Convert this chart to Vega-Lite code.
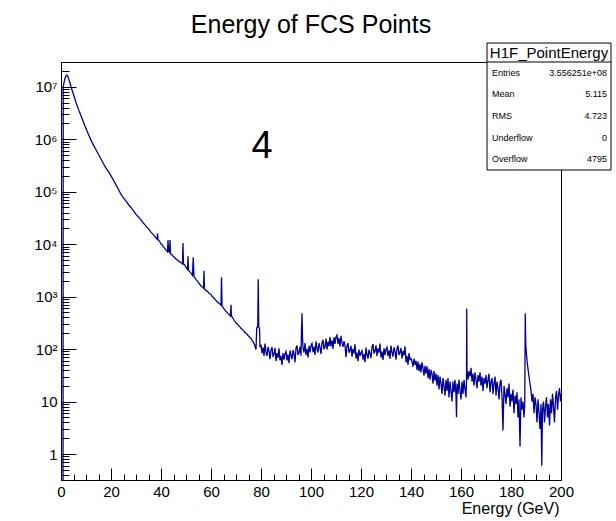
{
"$schema": "https://vega.github.io/schema/vega-lite/v6.json",
"width": 500, "height": 418,
"autosize": "none",
"padding": {"left": 61, "top": 62, "right": 55, "bottom": 41},
"background": "white",
"config": {
  "view": {"stroke": null},
  "font": "Liberation Sans",
  "axis": {"grid": false, "labelFont": "Liberation Sans", "labelFontSize": 15, "labelColor": "black", "tickColor": "black", "domainColor": "black", "tickWidth": 1, "domainWidth": 1, "labelFlush": false, "labelOverlap": false, "titleFont": "Liberation Sans", "titleFontWeight": "normal", "titleColor": "black"}
},
"datasets": {
"one": [{}],
"hist": [
{"E":0.8,"N":0.01},{"E":0.9,"N":1.0e7},{"E":1.2,"N":1.2e7},{"E":1.6,"N":1.45e7},{"E":2.0,"N":1.62e7},{"E":2.4,"N":1.66e7},{"E":2.8,"N":1.55e7},{"E":3.2,"N":1.35e7},{"E":3.6,"N":1.18e7},{"E":4,"N":1.0e7},
{"E":5,"N":7.1e6},{"E":6,"N":5.0e6},{"E":7,"N":3.7e6},{"E":8,"N":2.8e6},{"E":9,"N":2.1e6},{"E":10,"N":1.6e6},{"E":11,"N":1.23e6},{"E":12,"N":9.5e5},{"E":13,"N":7.7e5},{"E":14,"N":6.3e5},
{"E":15,"N":5.1e5},{"E":16,"N":4.2e5},{"E":17,"N":3.4e5},{"E":18,"N":2.8e5},{"E":19,"N":2.4e5},{"E":20,"N":2.0e5},{"E":21,"N":1.65e5},{"E":22,"N":1.35e5},{"E":23,"N":1.1e5},{"E":24,"N":8.9e4},
{"E":25,"N":7.6e4},{"E":26,"N":6.6e4},{"E":27,"N":5.7e4},{"E":28,"N":5.0e4},{"E":29,"N":4.3e4},{"E":30,"N":3.7e4},{"E":31,"N":3.3e4},{"E":32,"N":2.9e4},{"E":33,"N":2.5e4},{"E":34,"N":2.2e4},
{"E":35,"N":1.95e4},{"E":36,"N":1.7e4},{"E":37,"N":1.5e4},{"E":38,"N":1.3e4},{"E":38.4,"N":1.25e4},{"E":38.6,"N":1.6e4},{"E":38.8,"N":1.22e4},{"E":39.5,"N":1.12e4},{"E":40,"N":1.0e4},{"E":40.5,"N":9.6e3},
{"E":41,"N":8.9e3},{"E":41.5,"N":8.3e3},{"E":42,"N":7.7e3},{"E":42.6,"N":7.2e3},{"E":42.8,"N":1.2e4},{"E":43.0,"N":7.3e3},{"E":43.4,"N":7.0e3},{"E":43.6,"N":1.2e4},{"E":43.8,"N":6.8e3},{"E":44,"N":6.4e3},
{"E":44.5,"N":6.2e3},{"E":45,"N":5.8e3},{"E":45.5,"N":5.5e3},{"E":46,"N":5.2e3},{"E":46.5,"N":5.0e3},{"E":47,"N":4.8e3},{"E":47.5,"N":4.6e3},{"E":48,"N":4.4e3},{"E":48.6,"N":4.2e3},{"E":48.8,"N":1.05e4},
{"E":49.0,"N":4.2e3},{"E":49.5,"N":4.0e3},{"E":50,"N":3.6e3},{"E":50.6,"N":3.3e3},{"E":50.8,"N":5.9e3},{"E":51.0,"N":3.2e3},{"E":51.5,"N":3.0e3},{"E":52,"N":2.8e3},{"E":52.6,"N":2.55e3},{"E":52.9,"N":5.6e3},
{"E":53.2,"N":2.4e3},{"E":53.6,"N":2.3e3},{"E":54,"N":2.1e3},{"E":54.5,"N":2.0e3},{"E":55,"N":1.85e3},{"E":55.5,"N":1.72e3},{"E":56,"N":1.6e3},{"E":56.5,"N":1.52e3},{"E":57.0,"N":1.45e3},{"E":57.2,"N":3.1e3},
{"E":57.4,"N":1.4e3},{"E":58,"N":1.3e3},{"E":58.5,"N":1.26e3},{"E":59,"N":1.2e3},{"E":59.5,"N":1.13e3},{"E":60,"N":1.1e3},{"E":60.5,"N":1.0e3},{"E":61,"N":960},{"E":61.5,"N":900},{"E":62,"N":850},
{"E":62.5,"N":790},{"E":63,"N":760},{"E":63.5,"N":720},{"E":64,"N":690},{"E":64.2,"N":2350},{"E":64.4,"N":680},{"E":65,"N":600},{"E":65.5,"N":560},{"E":66,"N":520},{"E":66.5,"N":500},
{"E":67,"N":470},{"E":67.5,"N":440},{"E":67.8,"N":425},{"E":68.0,"N":700},{"E":68.2,"N":430},{"E":68.6,"N":400},{"E":69,"N":370},{"E":69.5,"N":340},{"E":70,"N":316},{"E":70.5,"N":300},
{"E":71,"N":280},{"E":71.5,"N":268},{"E":72,"N":250},{"E":72.5,"N":236},{"E":73,"N":225},{"E":73.5,"N":210},{"E":74,"N":200},{"E":74.5,"N":190},{"E":75,"N":178},{"E":75.5,"N":168},
{"E":76,"N":158},{"E":76.5,"N":145},{"E":77,"N":132},{"E":77.5,"N":118},{"E":78.0,"N":98},{"E":78.3,"N":255},{"E":78.7,"N":270},{"E":78.9,"N":2140},{"E":79.1,"N":262},{"E":79.4,"N":250},
{"E":79.6,"N":108},
{"E":80.0,"N":122},{"E":80.4,"N":83},{"E":80.8,"N":108},{"E":81.2,"N":74},{"E":81.6,"N":127},{"E":82.0,"N":87},{"E":82.4,"N":74},{"E":82.8,"N":110},{"E":83.2,"N":92},{"E":83.6,"N":64},
{"E":84.0,"N":97},{"E":84.4,"N":109},{"E":84.8,"N":71},{"E":85.2,"N":80},{"E":85.6,"N":105},{"E":86.0,"N":59},{"E":86.4,"N":84},{"E":86.8,"N":68},{"E":87.2,"N":103},{"E":87.6,"N":61},
{"E":88.0,"N":74},{"E":88.4,"N":50},{"E":88.8,"N":84},{"E":89.2,"N":63},{"E":89.6,"N":81},{"E":90.0,"N":90},{"E":90.4,"N":61},{"E":90.8,"N":79},{"E":91.2,"N":54},{"E":91.6,"N":94},
{"E":92.0,"N":76},{"E":92.4,"N":64},{"E":92.8,"N":96},{"E":93.2,"N":80},{"E":93.6,"N":56},{"E":94.0,"N":104},{"E":94.4,"N":117},{"E":94.8,"N":77},{"E":95.2,"N":86},{"E":95.6,"N":112},
{"E":96.0,"N":75},{"E":96.2,"N":230},{"E":96.4,"N":480},{"E":96.6,"N":170},{"E":96.8,"N":106},{"E":97.2,"N":86},{"E":97.6,"N":130},{"E":98.0,"N":77},{"E":98.4,"N":101},{"E":98.8,"N":69},
{"E":99.2,"N":115},{"E":99.6,"N":86},{"E":100.0,"N":117},{"E":100.4,"N":128},{"E":100.8,"N":87},{"E":101.2,"N":112},{"E":101.6,"N":77},{"E":102.0,"N":140},{"E":102.4,"N":103},{"E":102.8,"N":86},
{"E":103.2,"N":130},{"E":103.6,"N":108},{"E":104.0,"N":81},{"E":104.4,"N":133},{"E":104.8,"N":151},{"E":105.2,"N":99},{"E":105.6,"N":110},{"E":106.0,"N":158},{"E":106.4,"N":98},{"E":106.8,"N":139},
{"E":107.2,"N":113},{"E":107.6,"N":170},{"E":108.0,"N":112},{"E":108.4,"N":147},{"E":108.8,"N":101},{"E":109.2,"N":168},{"E":109.6,"N":126},{"E":110.0,"N":170},{"E":110.4,"N":185},{"E":110.8,"N":126},
{"E":111.2,"N":163},{"E":111.6,"N":111},{"E":112.0,"N":179},{"E":112.4,"N":131},{"E":112.8,"N":110},{"E":113.2,"N":142},{"E":113.6,"N":118},{"E":114.0,"N":70},{"E":114.4,"N":115},{"E":114.8,"N":130},
{"E":115.2,"N":85},{"E":115.6,"N":95},{"E":116.0,"N":115},{"E":116.4,"N":72},{"E":116.8,"N":101},{"E":117.2,"N":83},{"E":117.6,"N":124},{"E":118.0,"N":66},{"E":118.4,"N":86},{"E":118.8,"N":59},
{"E":119.2,"N":98},{"E":119.6,"N":74},{"E":120.0,"N":85},{"E":120.4,"N":93},{"E":120.8,"N":63},{"E":121.2,"N":81},{"E":121.6,"N":56},{"E":122.0,"N":107},{"E":122.4,"N":78},{"E":122.8,"N":66},
{"E":123.2,"N":98},{"E":123.6,"N":82},{"E":124.0,"N":67},{"E":124.4,"N":110},{"E":124.8,"N":125},{"E":125.2,"N":82},{"E":125.6,"N":91},{"E":126.0,"N":118},{"E":126.4,"N":73},{"E":126.8,"N":103},
{"E":127.2,"N":85},{"E":127.6,"N":127},{"E":128.0,"N":69},{"E":128.4,"N":90},{"E":128.8,"N":62},{"E":129.2,"N":103},{"E":129.6,"N":77},{"E":130.0,"N":99},{"E":130.4,"N":108},{"E":130.8,"N":73},
{"E":131.2,"N":95},{"E":131.6,"N":65},{"E":132.0,"N":117},{"E":132.4,"N":86},{"E":132.8,"N":72},{"E":133.2,"N":108},{"E":133.6,"N":90},{"E":134.0,"N":63},{"E":134.4,"N":104},{"E":134.8,"N":117},
{"E":135.2,"N":77},{"E":135.6,"N":86},{"E":136.0,"N":105},{"E":136.4,"N":66},{"E":136.8,"N":92},{"E":137.2,"N":76},{"E":137.6,"N":113},{"E":138.0,"N":56},{"E":138.4,"N":74},{"E":138.8,"N":50},
{"E":139.2,"N":84},{"E":139.6,"N":63},{"E":140.0,"N":66},{"E":140.4,"N":58},{"E":140.8,"N":46},{"E":141.2,"N":66},{"E":141.6,"N":50},{"E":142.0,"N":60},{"E":142.4,"N":40},{"E":142.8,"N":58},
{"E":143.2,"N":38},{"E":143.6,"N":52},{"E":144.0,"N":36},{"E":144.4,"N":56},{"E":144.8,"N":44},{"E":145.2,"N":31},{"E":145.6,"N":48},{"E":146.0,"N":34},{"E":146.4,"N":47},{"E":146.8,"N":28},
{"E":147.2,"N":42},{"E":147.6,"N":26},{"E":148.0,"N":40},{"E":148.4,"N":34},{"E":148.8,"N":22},{"E":149.2,"N":38},{"E":149.6,"N":25},{"E":150.0,"N":34},{"E":150.4,"N":20},{"E":150.8,"N":32},
{"E":151.2,"N":17},{"E":151.6,"N":30},{"E":152.0,"N":22},{"E":152.4,"N":14},{"E":152.8,"N":28},{"E":153.2,"N":20},{"E":153.6,"N":13},{"E":154.0,"N":26},{"E":154.4,"N":16},{"E":154.8,"N":28},
{"E":155.2,"N":12},{"E":155.6,"N":24},{"E":156.0,"N":16},{"E":156.4,"N":10},{"E":156.8,"N":24},{"E":157.2,"N":15},{"E":157.6,"N":26},{"E":158.0,"N":13},{"E":158.2,"N":5},{"E":158.4,"N":22},
{"E":158.8,"N":14},{"E":159.2,"N":26},{"E":159.6,"N":16},{"E":160.0,"N":11},{"E":160.4,"N":24},{"E":160.8,"N":14},{"E":161.2,"N":26},{"E":161.6,"N":17},{"E":162.0,"N":12},{"E":162.2,"N":24},
{"E":162.3,"N":590},{"E":162.4,"N":40},{"E":162.8,"N":26},{"E":163.2,"N":38},{"E":163.6,"N":30},{"E":164.0,"N":44},{"E":164.4,"N":24},{"E":164.8,"N":34},{"E":165.2,"N":20},{"E":165.6,"N":36},
{"E":166.0,"N":26},{"E":166.4,"N":18},{"E":166.8,"N":32},{"E":167.2,"N":24},{"E":167.6,"N":36},{"E":168.0,"N":20},{"E":168.4,"N":30},{"E":168.8,"N":16},{"E":169.2,"N":28},{"E":169.6,"N":22},
{"E":170.0,"N":32},{"E":170.4,"N":18},{"E":170.8,"N":26},{"E":171.2,"N":34},{"E":171.6,"N":15},{"E":172.0,"N":24},{"E":172.4,"N":28},{"E":172.8,"N":14},{"E":173.2,"N":22},{"E":173.6,"N":30},
{"E":174.0,"N":13},{"E":174.4,"N":24},{"E":174.8,"N":18},{"E":175.2,"N":11},{"E":175.6,"N":22},{"E":176.0,"N":26},{"E":176.4,"N":12},{"E":176.8,"N":2.8},{"E":177.2,"N":20},{"E":177.6,"N":14},
{"E":178.0,"N":9},{"E":178.4,"N":18},{"E":178.8,"N":12},{"E":179.2,"N":22},{"E":179.6,"N":8},{"E":180.0,"N":14},{"E":180.4,"N":10},{"E":180.8,"N":17},{"E":181.2,"N":6},{"E":181.6,"N":13},
{"E":182.0,"N":9},{"E":182.4,"N":15},{"E":182.8,"N":5},{"E":183.2,"N":11},{"E":183.6,"N":1.4},{"E":184.0,"N":12},{"E":184.4,"N":7},{"E":184.8,"N":10},{"E":185.2,"N":5},{"E":185.5,"N":9},
{"E":185.7,"N":480},{"E":185.9,"N":120},{"E":186.1,"N":90},{"E":186.4,"N":60},{"E":186.8,"N":42},{"E":187.2,"N":30},{"E":187.6,"N":22},{"E":188.0,"N":16},{"E":188.4,"N":10},{"E":188.8,"N":14},
{"E":189.2,"N":6},{"E":189.6,"N":12},{"E":190.0,"N":9},{"E":190.4,"N":4},{"E":190.8,"N":11},{"E":191.2,"N":6},{"E":191.6,"N":3},{"E":192.0,"N":9},{"E":192.3,"N":0.6},{"E":192.6,"N":7},
{"E":193.0,"N":10},{"E":193.4,"N":4},{"E":193.8,"N":8},{"E":194.2,"N":12},{"E":194.6,"N":5},{"E":195.0,"N":9},{"E":195.4,"N":3.5},{"E":195.8,"N":11},{"E":196.2,"N":6},{"E":196.6,"N":14},
{"E":197.0,"N":8},{"E":197.4,"N":4},{"E":197.8,"N":12},{"E":198.2,"N":16},{"E":198.6,"N":7},{"E":199.0,"N":13},{"E":199.4,"N":18},{"E":199.8,"N":10},{"E":200.0,"N":14}
]
},
"resolve": {"axis": {"x": "independent", "y": "independent"}},
"layer": [
{
  "data": {"name": "hist"},
  "mark": {"type": "line", "color": "#000099", "strokeWidth": 1.3, "clip": true},
  "encoding": {
    "x": {"field": "E", "type": "quantitative", "scale": {"domain": [0, 200], "nice": false, "zero": false},
      "axis": {"orient": "bottom", "values": [0,20,40,60,80,100,120,140,160,180,200], "tickSize": -12, "labelPadding": 16, "title": "Energy (GeV)", "titleFontSize": 16, "titleAnchor": "end", "titleAlign": "right", "titleX": 498, "titlePadding": 1}},
    "y": {"field": "N", "type": "quantitative", "scale": {"type": "log", "domain": [0.32, 2.96e7], "nice": false},
      "axis": {"orient": "left", "values": [1,10,100,1000,10000,100000,1000000,10000000], "tickSize": -15, "labelPadding": 19, "title": null,
        "labelExpr": "datum.value < 2 ? '1' : datum.value < 20 ? '10' : '10' + ['','','²','³','⁴','⁵','⁶','⁷'][round(log(datum.value)/LN10)]"}}
  }
},
{
  "data": {"name": "hist"},
  "mark": {"type": "point", "opacity": 0},
  "encoding": {
    "x": {"field": "E", "type": "quantitative",
      "axis": {"orient": "bottom", "values": [5,10,15,25,30,35,45,50,55,65,70,75,85,90,95,105,110,115,125,130,135,145,150,155,165,170,175,185,190,195], "tickSize": -6, "labels": false, "domain": false, "title": null}},
    "y": {"field": "N", "type": "quantitative",
      "axis": {"orient": "left", "values": [0.4,0.5,0.6,0.7,0.8,0.9,2,3,4,5,6,7,8,9,20,30,40,50,60,70,80,90,200,300,400,500,600,700,800,900,2000,3000,4000,5000,6000,7000,8000,9000,20000,30000,40000,50000,60000,70000,80000,90000,200000,300000,400000,500000,600000,700000,800000,900000,2000000,3000000,4000000,5000000,6000000,7000000,8000000,9000000,20000000], "tickSize": -8, "labels": false, "domain": false, "title": null}}
  }
},
{
  "data": {"name": "hist"},
  "mark": {"type": "point", "opacity": 0},
  "encoding": {
    "x": {"field": "E", "type": "quantitative", "axis": {"orient": "top", "ticks": false, "labels": false, "domain": true, "title": null}},
    "y": {"field": "N", "type": "quantitative", "axis": {"orient": "right", "ticks": false, "labels": false, "domain": true, "title": null}}
  }
},
{
  "data": {"name": "one"},
  "mark": {"type": "text", "text": "Energy of FCS Points", "fontSize": 25, "font": "Liberation Sans", "align": "center", "baseline": "alphabetic", "fill": "black", "clip": false},
  "encoding": {
    "x": {"datum": 100, "type": "quantitative", "axis": null},
    "y": {"datum": 106000000, "type": "quantitative", "axis": null}
  }
},
{
  "data": {"name": "one"},
  "mark": {"type": "text", "text": "4", "fontSize": 38, "font": "Liberation Sans", "align": "center", "baseline": "alphabetic", "fill": "black"},
  "encoding": {
    "x": {"datum": 80.4, "type": "quantitative", "axis": null},
    "y": {"datum": 438000, "type": "quantitative", "axis": null}
  }
},
{
  "data": {"name": "one"},
  "mark": {"type": "rect", "fill": "white", "stroke": "black", "strokeWidth": 1, "clip": false},
  "encoding": {
    "x": {"datum": 170.4, "type": "quantitative", "axis": null},
    "x2": {"datum": 220},
    "y": {"datum": 68000000, "type": "quantitative", "axis": null},
    "y2": {"datum": 259000}
  }
},
{
  "data": {"name": "one"},
  "mark": {"type": "rule", "color": "black", "strokeWidth": 1, "clip": false},
  "encoding": {
    "x": {"datum": 170.4, "type": "quantitative", "axis": null},
    "x2": {"datum": 220},
    "y": {"datum": 29600000, "type": "quantitative", "axis": null}
  }
},
{
  "data": {"name": "one"},
  "mark": {"type": "text", "text": "H1F_PointEnergy", "fontSize": 15, "font": "Liberation Sans", "align": "center", "baseline": "middle", "fill": "black", "clip": false},
  "encoding": {
    "x": {"datum": 195.2, "type": "quantitative", "axis": null},
    "y": {"datum": 43900000, "type": "quantitative", "axis": null}
  }
},
{
  "data": {"name": "one"},
  "mark": {"type": "text", "text": ["Entries", "Mean", "RMS", "Underflow", "Overflow"], "lineHeight": 21.6, "fontSize": 9, "font": "Liberation Sans", "align": "left", "baseline": "middle", "fill": "black", "clip": false},
  "encoding": {
    "x": {"datum": 172.4, "type": "quantitative", "axis": null},
    "y": {"datum": 18400000, "type": "quantitative", "axis": null}
  }
},
{
  "data": {"name": "one"},
  "mark": {"type": "text", "text": ["3.556251e+08", "5.115", "4.723", "0", "4795"], "lineHeight": 21.6, "fontSize": 9, "font": "Liberation Sans", "align": "right", "baseline": "middle", "fill": "black", "clip": false},
  "encoding": {
    "x": {"datum": 218.4, "type": "quantitative", "axis": null},
    "y": {"datum": 18400000, "type": "quantitative", "axis": null}
  }
}
]
}
